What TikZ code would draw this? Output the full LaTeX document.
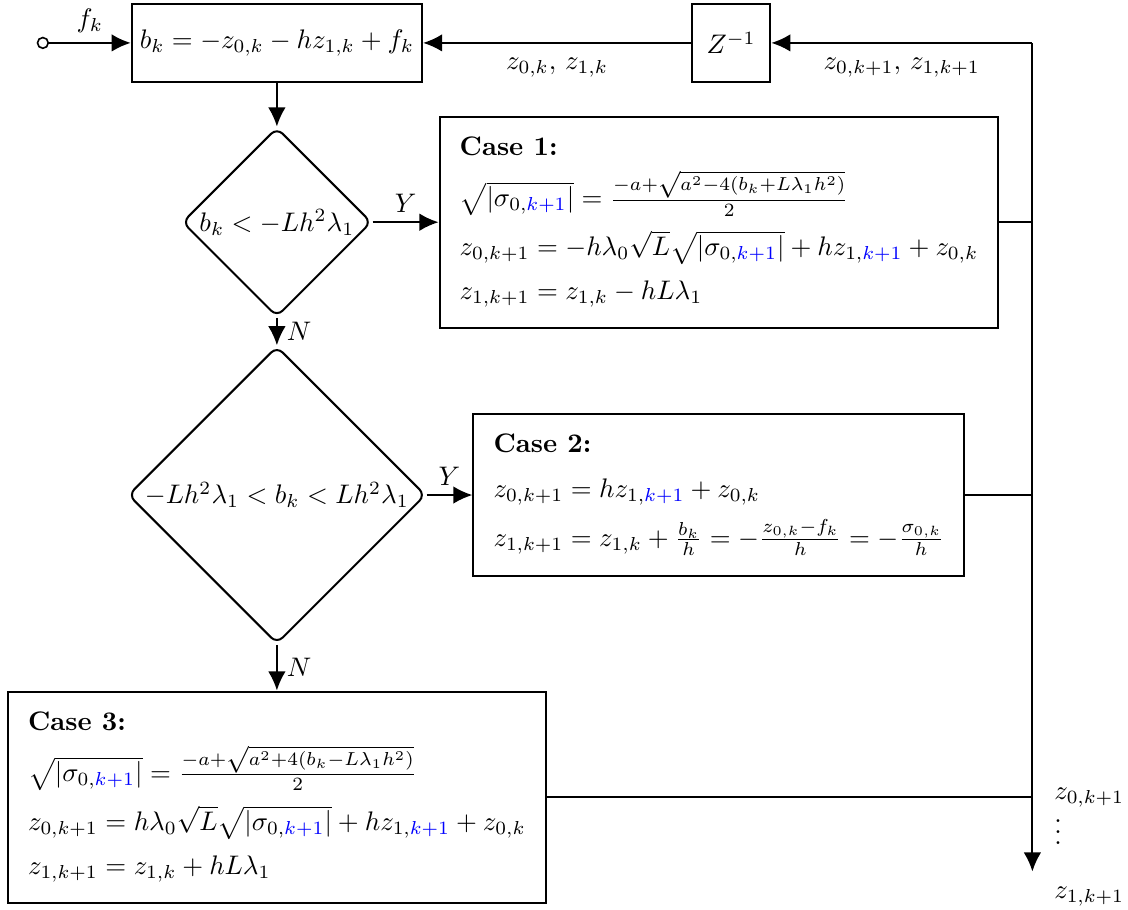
\documentclass[tikz,border=0pt]{standalone}
\usepackage{amsmath}
\usepackage{xcolor}
\usepackage{tikz}
\usetikzlibrary{arrows.meta,positioning,calc,shapes.geometric}
\newcommand{\kplus}{\textcolor{blue}{k+1}}
\tikzset{
  flowarrow/.style={-{Latex[length=2.5mm,width=2.3mm]}, line width=0.75pt},
  linkline/.style={line width=0.75pt},
  block/.style={draw, line width=0.75pt, minimum height=10.25mm, inner sep=3pt},
  decision/.style={draw, line width=0.75pt, diamond, aspect=1, rounded corners=3pt},
  casebox/.style={draw, line width=0.75pt, align=left, inner sep=7.5pt},
  source/.style={draw, circle, line width=0.6pt, inner sep=0pt, minimum size=4pt},
  smallnote/.style={inner sep=0pt}
}

\begin{document}
\begin{tikzpicture}[node distance=6mm and 8mm]
  \useasboundingbox (-103.2pt,16pt) rectangle (317.2pt,-322.8pt);
  \node[block] (bk) {$b_k = -z_{0,k} - hz_{1,k} + f_k$};
  \node[source, left=10.7mm of bk] (in) {};
  \node[block, minimum width=10.25mm, right=35.1mm of bk] (zinv) {$Z^{-1}$};
  \coordinate[right=34.2mm of zinv] (top);
  \node[decision, inner sep=0.8pt, below=5.7mm of bk] (d1) {$b_k < -Lh^2\lambda_1$};
  \node[casebox, right=8.65mm of d1] (c1) {\textbf{Case 1:}\\[4.5pt]
    $\sqrt{|\sigma_{0,\kplus}|} = \frac{-a+\sqrt{a^2-4(b_k+L\lambda_1h^2)}}{2}$\\[4.5pt]
    $z_{0,k+1} = -h\lambda_0\sqrt{L}\sqrt{|\sigma_{0,\kplus}|} + hz_{1,\kplus} + z_{0,k}$\\[4.5pt]
    $z_{1,k+1} = z_{1,k} - hL\lambda_1$};
  \node[decision, inner sep=0.7pt, below=3.6mm of d1] (d2) {$-Lh^2\lambda_1 < b_k < Lh^2\lambda_1$};
  \node[casebox, right=6mm of d2] (c2) {\textbf{Case 2:}\\[4.5pt]
    $z_{0,k+1} = hz_{1,\kplus} + z_{0,k}$\\[4.5pt]
    $z_{1,k+1} = z_{1,k} + \frac{b_k}{h} = -\frac{z_{0,k}-f_k}{h} = -\frac{\sigma_{0,k}}{h}$};
  \node[casebox, below=6mm of d2] (c3) {\textbf{Case 3:}\\[4.5pt]
    $\sqrt{|\sigma_{0,\kplus}|} = \frac{-a+\sqrt{a^2+4(b_k-L\lambda_1h^2)}}{2}$\\[4.5pt]
    $z_{0,k+1} = h\lambda_0\sqrt{L}\sqrt{|\sigma_{0,\kplus}|} + hz_{1,\kplus} + z_{0,k}$\\[4.5pt]
    $z_{1,k+1} = z_{1,k} + hL\lambda_1$};
  \coordinate (bot) at ($(top |- c3.south)+(0,4.2mm)$);
  \coordinate (j3) at (c3.east -| top);
  \node[smallnote, right=2.8mm of j3] (zo) {$z_{0,k+1}$};
  \node[smallnote, anchor=north west, yshift=1.5pt] (dots) at (zo.south west) {$\vdots$};
  \node[smallnote, below right=2mm and 2.8mm of bot] (zi) {$z_{1,k+1}$};

  \draw[flowarrow] (in) -- (bk) node[midway, above] {$f_k$};
  \draw[flowarrow] (zinv) -- (bk) node[midway, below=2pt] {$z_{0,k},\, z_{1,k}$};
  \draw[flowarrow] (top) -- (zinv) node[midway, below=2pt] {$z_{0,k+1},\, z_{1,k+1}$};
  \draw[flowarrow] (top) -- (bot);
  \draw[flowarrow] (bk) -- (d1);
  \draw[flowarrow] (d1) -- (c1) node[midway, above] {$Y$};
  \draw[flowarrow] (d1) -- (d2) node[midway, right] {$N$};
  \draw[flowarrow] (d2) -- (c2) node[midway, above] {$Y$};
  \draw[flowarrow] (d2) -- (c3) node[midway, right] {$N$};
  \draw[linkline] (c1.east) -- (c1.east -| top);
  \draw[linkline] (c2.east) -- (c2.east -| top);
  \draw[linkline] (c3.east) -- (j3);
\end{tikzpicture}
\end{document}
